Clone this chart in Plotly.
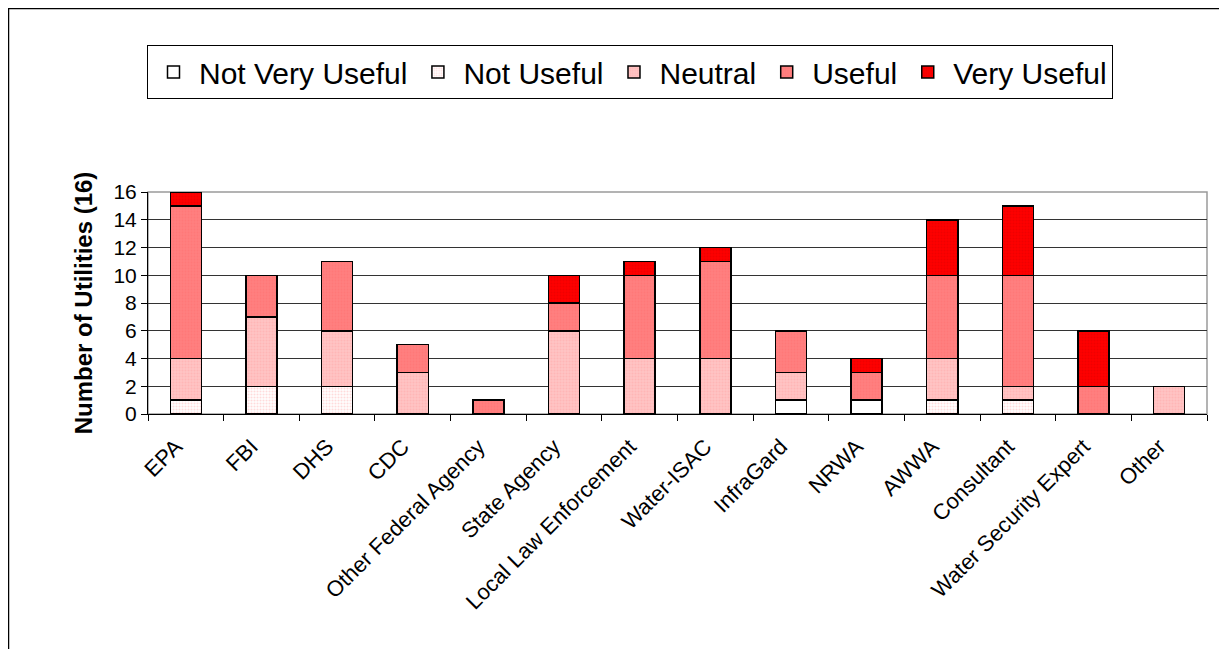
import plotly.graph_objects as go

categories = ["EPA", "FBI", "DHS", "CDC", "Other Federal Agency", "State Agency",
              "Local Law Enforcement", "Water-ISAC", "InfraGard", "NRWA", "AWWA",
              "Consultant", "Water Security Expert", "Other"]
not_very_useful = [0, 0, 0, 0, 0, 0, 0, 0, 1, 1, 0, 0, 0, 0]
not_useful      = [1, 2, 2, 0, 0, 0, 0, 0, 0, 0, 1, 1, 0, 0]
neutral         = [3, 5, 4, 3, 0, 6, 4, 4, 2, 0, 3, 1, 0, 2]
useful          = [11, 3, 5, 2, 1, 2, 6, 7, 3, 2, 6, 8, 2, 0]
very_useful     = [1, 0, 0, 0, 0, 2, 1, 1, 0, 1, 4, 5, 4, 0]
y_ticks = [0, 2, 4, 6, 8, 10, 12, 14, 16]

series = [
    ("Not Very Useful", not_very_useful, "#FFFFFF", "", "#FFFFFF"),
    ("Not Useful", not_useful, "#FFFFFF", ".", "#FFB8B8"),
    ("Neutral", neutral, "#FFC4C4", ".", "#FFA8A8"),
    ("Useful", useful, "#FF8080", ".", "#FF7070"),
    ("Very Useful", very_useful, "#FF0000", ".", "#E00000"),
]

fig = go.Figure()
for name, vals, bg, shape, fg in series:
    fig.add_trace(go.Bar(
        name=name, x=categories, y=vals,
        marker=dict(color=bg, line=dict(color="#000000", width=1.5),
                    pattern=dict(shape=shape, fgcolor=fg, bgcolor=bg, size=3, solidity=0.4)),
    ))

OFF = 8  # page body offset
W, H = 1227 - OFF, 649 - OFF
L = 148 - OFF
T = 192 - OFF
R = W - (1207 - OFF)
B = H - (414 - OFF)
pw = W - L - R
ph = H - T - B

def px_x(p):
    return (p - OFF - L) / pw

def px_y(p):
    return (H - B - (p - OFF)) / ph

fig.update_layout(
    barmode="stack",
    bargap=0.59,
    width=W, height=H, autosize=False,
    margin=dict(l=L, r=R, t=T, b=B),
    paper_bgcolor="white", plot_bgcolor="white",
    font=dict(family="Arial, Liberation Sans, sans-serif", color="black"),
    showlegend=True,
    legend=dict(orientation="h", x=px_x(147), y=px_y(45), xanchor="left", yanchor="top",
                font=dict(size=30), bordercolor="#000000", borderwidth=1,
                bgcolor="white", traceorder="normal", itemwidth=41),
    xaxis=dict(type="category", showgrid=False, showline=True, linecolor="black", linewidth=1,
               ticks="outside", tickson="boundaries", ticklen=6, tickcolor="black",
               tickangle=-45, tickfont=dict(size=22), ticklabelstandoff=10, ticklabelshift=-10),
    yaxis=dict(range=[0, 16], tickvals=y_ticks, showgrid=True, gridcolor="#333333", gridwidth=1,
               showline=True, linecolor="black", linewidth=1, ticks="outside", ticklen=6,
               tickcolor="black", tickfont=dict(size=21), zeroline=False,
               title=dict(text="<b>Number of Utilities (16)</b>", font=dict(size=24), standoff=14)),
    shapes=[
        dict(type="rect", xref="paper", yref="paper", x0=0, x1=1, y0=0, y1=1,
             line=dict(color="#9a9a9a", width=1.5), layer="below"),
        dict(type="rect", xref="paper", yref="paper", x0=px_x(8.5), x1=px_x(1250),
             y0=px_y(670), y1=px_y(8.5), line=dict(color="#000000", width=1.5)),
    ],
)

fig.write_html("out.html")
